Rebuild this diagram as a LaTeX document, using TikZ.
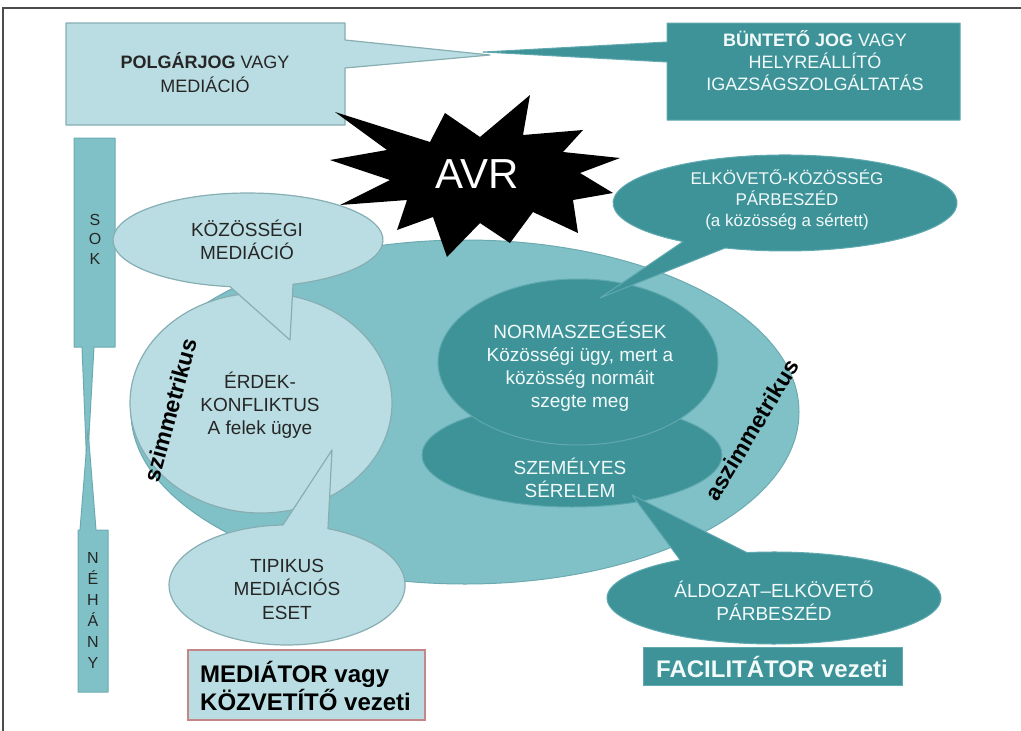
\documentclass[tikz,border=0pt]{standalone}
\usepackage{fontspec}
\setmainfont{Liberation Sans}
\definecolor{lightc}{HTML}{B9DDE2}
\definecolor{lightedge}{HTML}{86AEB3}
\definecolor{medc}{HTML}{80C1C7}
\definecolor{mededge}{HTML}{6CAAB0}
\definecolor{darkc}{HTML}{3E9399}
\definecolor{darkedge}{HTML}{5FA9AF}
\definecolor{txtdark}{HTML}{262626}
\definecolor{txtlight}{HTML}{F2FAFA}
\definecolor{redborder}{HTML}{C48686}
\begin{document}
\begin{tikzpicture}[x=1pt,y=-1pt,
  lightshape/.style={fill=lightc, draw=lightedge, line width=1.2pt, line join=round},
  medshape/.style={fill=medc, draw=mededge, line width=1pt, line join=round},
  darkshape/.style={fill=darkc, draw=darkedge, line width=1pt, line join=round},
  lighttext/.style={text=txtdark, align=center, inner sep=0pt, font=\fontsize{19}{23}\selectfont},
  darktext/.style={text=txtlight, align=center, inner sep=0pt, font=\fontsize{19}{23}\selectfont},
  sidetext/.style={text=black, inner sep=0pt, font=\bfseries\fontsize{23}{23}\selectfont},
  framelines/.style={draw=black!70, line width=1.5pt}]
\useasboundingbox (0,0) rectangle (1021,731);
\fill[white] (0,0) rectangle (1021,731);
\draw[framelines] (3,731) -- (3,8) -- (1021,8);

% top callout boxes
\filldraw[lightshape] (66,23) -- (345,23) -- (345,40) -- (490,55) -- (345,68) -- (345,125) -- (66,125) -- cycle;
\node[lighttext, font=\fontsize{18}{24}\selectfont] (polg) at (205,73) {\textbf{POLGÁRJOG} VAGY\\MEDIÁCIÓ};
\filldraw[darkshape] (667,23) -- (960,23) -- (960,120) -- (667,120) -- (667,62) -- (483,52) -- (667,42) -- cycle;
\node[darktext, font=\fontsize{18}{22}\selectfont] (bunt) at (815,61) {\textbf{BÜNTETŐ JOG} VAGY\\HELYREÁLLÍTÓ\\IGAZSÁGSZOLGÁLTATÁS};

% SOK / NEHANY bars
\filldraw[medshape] (74,138) -- (115,138) -- (115,347) -- (94,347) -- (87,470) -- (82,347) -- (74,347) -- cycle;
\filldraw[medshape] (78,530) -- (80,530) -- (88,430) -- (96,530) -- (108,530) -- (108,692) -- (78,692) -- cycle;
\node[text=txtdark, align=center, inner sep=0pt, font=\fontsize{16}{19.5}\selectfont] (sok) at (95,239) {S\\O\\K};
\node[text=txtdark, align=center, inner sep=0pt, font=\fontsize{16}{21}\selectfont] (nehany) at (93,610) {N\\É\\H\\Á\\N\\Y};

% big ellipse
\filldraw[medshape] (465,412) ellipse [x radius=334, y radius=172];

% star
\fill[black] (335,112) -- (430,142) -- (445,113) -- (480,137) -- (530,95) -- (523,135) -- (583,130) -- (563,152) -- (620,158) -- (580,173) -- (613,193) -- (573,200) -- (578,233) -- (533,212) -- (510,243) -- (480,223) -- (447,257) -- (433,217) -- (397,230) -- (407,200) -- (340,205) -- (390,180) -- (330,160) -- (387,150) -- cycle;
\node[text=white, inner sep=0pt, font=\fontsize{42}{42}\selectfont] (avr) at (477,174) {AVR};

% left side
\filldraw[lightshape] (261,403) ellipse [x radius=131, y radius=110];
\node[lighttext] (erdek) at (260,405) {ÉRDEK-\\KONFLIKTUS\\A felek ügye};
\filldraw[lightshape] (290,340) -- (229.9,286.6) arc[start angle=97.7, end angle=430.5, x radius=135, y radius=47] -- cycle;
\node[lighttext] (kozos) at (247,240) {KÖZÖSSÉGI\\MEDIÁCIÓ};
\filldraw[lightshape] (332,450) -- (328.0,528.7) arc[start angle=290.3, end angle=628, x radius=118, y radius=60] -- cycle;
\node[lighttext, font=\fontsize{19}{23.5}\selectfont] (tipikus) at (287,589) {TIPIKUS\\MEDIÁCIÓS\\ESET};

% right side
\filldraw[darkshape] (572,455) ellipse [x radius=150, y radius=52];
\filldraw[darkshape] (578,362) ellipse [x radius=140, y radius=83];
\node[darktext] (norma) at (580,367) {NORMASZEGÉSEK\\Közösségi ügy, mert a\\közösség normáit\\szegte meg};
\node[darktext] (szemelyes) at (570,478) {SZEMÉLYES\\SÉRELEM};
\filldraw[darkshape] (600,298) -- (683.0,241.6) arc[start angle=126.4, end angle=470.4, x radius=172, y radius=48] -- cycle;
\node[darktext, font=\fontsize{17}{21}\selectfont] (elkov) at (787,200) {ELKÖVETŐ-KÖZÖSSÉG\\PÁRBESZÉD\\(a közösség a sértett)};
\filldraw[darkshape] (632,495) -- (747.0,552.6) arc[start angle=260.7, end angle=595.8, x radius=167, y radius=46] -- cycle;
\node[darktext] (aldozat) at (774,601) {ÁLDOZAT–ELKÖVETŐ\\PÁRBESZÉD};

% bottom boxes
\filldraw[fill=lightc, draw=redborder, line width=1.5pt] (188,650) rectangle (425,720);
\node[text=black, align=left, anchor=west, inner sep=0pt, font=\bfseries\fontsize{24}{28}\selectfont] (mediator) at (200,686) {MEDIÁTOR vagy\\KÖZVETÍTŐ vezeti};
\filldraw[fill=darkc, draw=darkedge, line width=1pt] (643,647) rectangle (902,685);
\node[text=txtlight, inner sep=0pt, font=\bfseries\fontsize{24}{28}\selectfont] (facil) at (772,667) {FACILITÁTOR vezeti};

% rotated labels
\node[sidetext, rotate=74.7] (szim) at (170,410) {szimmetrikus};
\node[sidetext, rotate=58.7] (aszim) at (752,430) {aszimmetrikus};
\end{tikzpicture}
\end{document}
